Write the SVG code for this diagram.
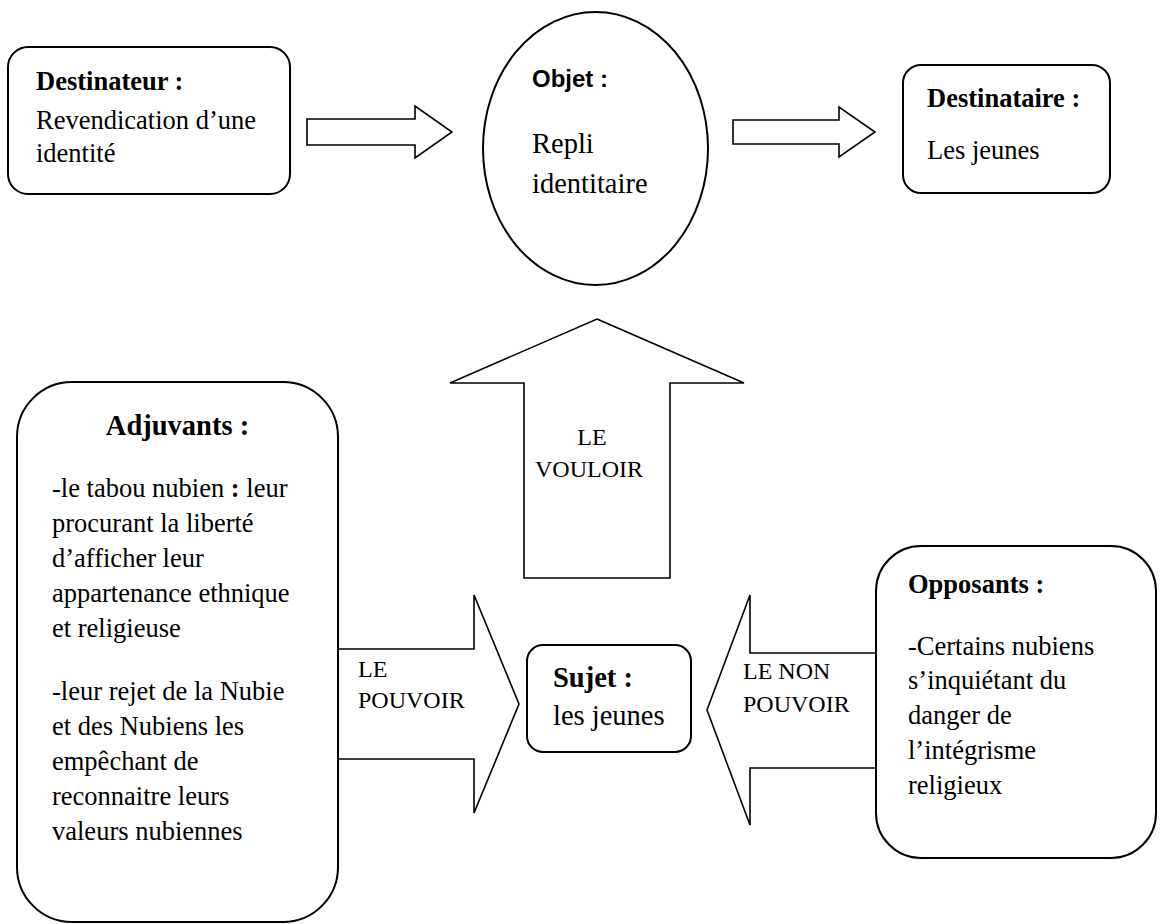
<svg xmlns="http://www.w3.org/2000/svg" width="1163" height="924" viewBox="0 0 1163 924">
<style>
.box{fill:#fff;stroke:#000;stroke-width:2}
.arr{fill:#fff;stroke:#000;stroke-width:1.6;stroke-linejoin:miter}
.t{font-family:"Liberation Serif","Times New Roman",serif;font-size:26.5px;fill:#000}
.b{font-weight:bold}
.big{font-size:28.5px}
.lab{font-family:"Liberation Serif","Times New Roman",serif;font-size:24px;fill:#000}
.sans{font-family:"Liberation Sans",Arial,sans-serif;font-weight:bold;font-size:24px;fill:#000}
</style>
<rect width="1163" height="924" fill="#fff"/>
<g id="connectors">
<polygon class="arr" points="307,119 415,119 415,106 452,132 415,158 415,145 307,145"/>
<polygon class="arr" points="733,120 839,120 839,107 875,132 839,157 839,144 733,144"/>
<polygon class="arr" points="597,319 744,383 670,383 670,578 524,578 524,383 450,383"/>
<polygon class="arr" points="338,649 474,649 474,595 519,704 474,813 474,759 338,759"/>
<polygon class="arr" points="876,653 750,653 750,595 707,710 750,825 750,768 876,768"/>
<text class="lab" x="592" y="445" text-anchor="middle">LE</text>
<text class="lab" x="589" y="477" text-anchor="middle">VOULOIR</text>
<text class="lab" x="358" y="677">LE</text>
<text class="lab" x="358" y="708">POUVOIR</text>
<text class="lab" x="743" y="679">LE NON</text>
<text class="lab" x="743" y="712">POUVOIR</text>
</g>
<g id="destinateur">
<rect class="box" x="8" y="47" width="282" height="147" rx="20"/>
<text class="t b" x="36" y="90">Destinateur :</text>
<text class="t" x="36" y="129">Revendication d’une</text>
<text class="t" x="36" y="162">identité</text>
</g>
<g id="objet">
<ellipse class="box" cx="595.5" cy="148.5" rx="112.5" ry="136.5"/>
<text class="sans" x="532" y="87">Objet :</text>
<text class="t big" x="532" y="153">Repli</text>
<text class="t big" x="532" y="193">identitaire</text>
</g>
<g id="destinataire">
<rect class="box" x="903" y="65" width="207" height="128" rx="18"/>
<text class="t b" x="927" y="107">Destinataire :</text>
<text class="t" x="927" y="159">Les jeunes</text>
</g>
<g id="adjuvants">
<rect class="box" x="17" y="382" width="321" height="540" rx="55"/>
<text class="t b big" x="177.5" y="435" text-anchor="middle">Adjuvants :</text>
<text class="t" x="52" y="497">-le tabou nubien <tspan class="b">:</tspan> leur</text>
<text class="t" x="52" y="532">procurant la liberté</text>
<text class="t" x="52" y="567">d’afficher leur</text>
<text class="t" x="52" y="602">appartenance ethnique</text>
<text class="t" x="52" y="637">et religieuse</text>
<text class="t" x="52" y="700">-leur rejet de la Nubie</text>
<text class="t" x="52" y="735">et des Nubiens les</text>
<text class="t" x="52" y="770">empêchant de</text>
<text class="t" x="52" y="805">reconnaitre leurs</text>
<text class="t" x="52" y="840">valeurs nubiennes</text>
</g>
<g id="sujet">
<rect class="box" x="527" y="645" width="164" height="107" rx="16"/>
<text class="t b big" x="553" y="687">Sujet :</text>
<text class="t big" x="553" y="725">les jeunes</text>
</g>
<g id="opposants">
<rect class="box" x="876" y="546" width="280" height="312" rx="45"/>
<text class="t b" x="908" y="593">Opposants :</text>
<text class="t" x="908" y="655">-Certains nubiens</text>
<text class="t" x="908" y="689">s’inquiétant du</text>
<text class="t" x="908" y="724">danger de</text>
<text class="t" x="908" y="759">l’intégrisme</text>
<text class="t" x="908" y="794">religieux</text>
</g>
</svg>
